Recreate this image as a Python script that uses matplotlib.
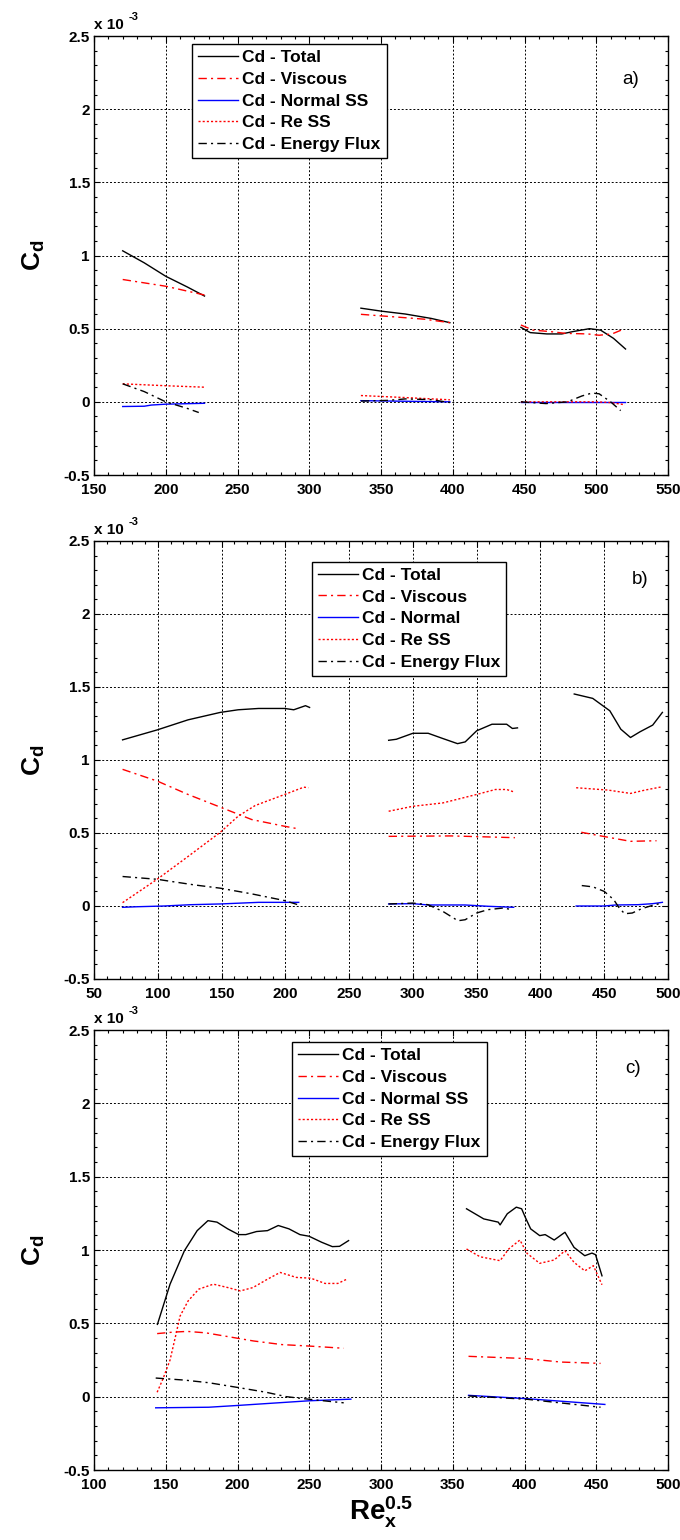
import matplotlib
matplotlib.use("Agg")
import matplotlib.pyplot as plt
from matplotlib.ticker import MultipleLocator, FormatStrFormatter
from matplotlib.transforms import offset_copy

plt.rcParams['font.family'] = ['Liberation Sans', 'DejaVu Sans']
plt.rcParams['axes.unicode_minus'] = False
plt.rcParams['mathtext.fontset'] = 'custom'
plt.rcParams['mathtext.rm'] = 'Liberation Sans'
plt.rcParams['mathtext.it'] = 'Liberation Sans:italic'
plt.rcParams['mathtext.bf'] = 'Liberation Sans:bold'

# Values in units of 1e-3 (as on the axis "x 10^-3"); each list = curve segments
series_names = ["Cd - Total", "Cd - Viscous", "Cd - Normal SS", "Cd - Re SS", "Cd - Energy Flux"]
series_names_b = ["Cd - Total", "Cd - Viscous", "Cd - Normal", "Cd - Re SS", "Cd - Energy Flux"]

# ---------------- panel a ----------------
a_total_x = [[170, 185, 200, 215, 227], [336, 350, 367, 385, 398],
             [447.5, 454, 465.6, 476, 483.7, 495.3, 503, 512, 520.4]]
a_total_y = [[1.032, 0.95, 0.858, 0.785, 0.723], [0.64, 0.62, 0.60, 0.57, 0.541],
             [0.509, 0.473, 0.464, 0.464, 0.48, 0.50, 0.49, 0.434, 0.361]]
a_visc_x = [[170, 200, 227], [336, 360, 380, 398],
            [447.5, 456, 468, 478.5, 494, 502, 511, 518.6]]
a_visc_y = [[0.836, 0.79, 0.73], [0.598, 0.58, 0.565, 0.541],
            [0.525, 0.49, 0.48, 0.468, 0.464, 0.455, 0.464, 0.495]]
a_norm_x = [[170, 185, 190, 200, 227], [336, 398], [447.5, 520]]
a_norm_y = [[-0.032, -0.03, -0.022, -0.016, -0.01], [0.008, 0.0], [0.0, 0.0]]
a_ress_x = [[170, 200, 227], [336, 365, 398], [447.5, 500, 510, 520]]
a_ress_y = [[0.123, 0.11, 0.10], [0.043, 0.03, 0.014], [0.0, 0.0, -0.005, -0.02]]
a_enfl_x = [[170, 185, 200, 215, 223], [336, 355, 367, 385, 398],
            [447.5, 465, 480, 490, 497, 502, 510, 517]]
a_enfl_y = [[0.123, 0.07, 0.0, -0.045, -0.073], [0.005, 0.01, 0.02, 0.015, -0.005],
            [0.0, -0.012, 0.0, 0.04, 0.06, 0.055, 0.0, -0.06]]

# ---------------- panel b ----------------
b_total_x = [[72.4, 99.5, 123.7, 149, 163, 179, 199.5, 206.6, 215.8, 219],
             [281, 287, 300, 312, 323.5, 335, 341, 350, 362, 373.5, 378, 382],
             [426.5, 441, 454.4, 463, 470.6, 478, 488, 495.6]]
b_total_y = [[1.138, 1.206, 1.275, 1.326, 1.344, 1.353, 1.353, 1.344, 1.372, 1.36],
             [1.135, 1.142, 1.183, 1.183, 1.147, 1.112, 1.124, 1.2, 1.245, 1.245, 1.216, 1.22],
             [1.452, 1.422, 1.337, 1.211, 1.154, 1.193, 1.239, 1.326]]
b_visc_x = [[72.4, 99.5, 123.7, 149, 173.7, 199.5, 210.5], [281, 330, 380],
            [432, 456, 470.6, 491]]
b_visc_y = [[0.936, 0.856, 0.764, 0.677, 0.592, 0.546, 0.528], [0.477, 0.48, 0.468],
            [0.505, 0.466, 0.443, 0.447]]
b_norm_x = [[72.4, 84, 105, 126, 149, 179, 210.5], [281, 300, 312, 341, 359, 379],
            [428, 450, 459, 476.5, 488, 495.6]]
b_norm_y = [[-0.009, -0.005, 0.0, 0.009, 0.014, 0.025, 0.025],
            [0.014, 0.016, 0.007, 0.007, -0.002, -0.009],
            [0.0, 0.0, 0.007, 0.009, 0.016, 0.025]]
b_ress_x = [[72.4, 99.5, 123.7, 149, 163, 176.3, 199.5, 214.5, 218],
            [281, 300, 323.5, 350, 364.7, 373.5, 379],
            [428, 453, 470.6, 482, 495.6]]
b_ress_y = [[0.023, 0.183, 0.339, 0.505, 0.615, 0.688, 0.764, 0.814, 0.81],
            [0.649, 0.683, 0.706, 0.764, 0.798, 0.798, 0.782],
            [0.81, 0.794, 0.771, 0.794, 0.817]]
b_enfl_x = [[72.4, 99.5, 113, 129, 149, 173.7, 199.5, 210.5],
            [281, 300, 311.8, 323.5, 335.3, 341, 350, 358.8, 370.6, 378],
            [432.4, 441.2, 450, 457.4, 461.8, 466, 472, 479.4, 488.2, 495.6]]
b_enfl_y = [[0.202, 0.183, 0.165, 0.144, 0.122, 0.083, 0.037, 0.007],
            [0.014, 0.02, 0.009, -0.037, -0.101, -0.094, -0.048, -0.025, -0.014, -0.025],
            [0.14, 0.131, 0.1, 0.044, -0.014, -0.053, -0.048, -0.018, 0.005, 0.021]]

# ---------------- panel c ----------------
c_total_x = [[144.2, 153, 163, 171.9, 179.4, 185.7, 193.2, 200.8, 205.8, 213.3, 220.9,
              228.4, 235.9, 243.5, 249.8, 258.6, 266.1, 271.1, 277.4],
             [359.6, 371.6, 381.7, 383, 388, 394.3, 398, 400.5, 404.3, 410.6, 414.4,
              420.7, 428.2, 434.5, 442, 447, 449.5, 454]]
c_total_y = [[0.493, 0.767, 0.995, 1.132, 1.2, 1.19, 1.144, 1.105, 1.105, 1.126, 1.132,
              1.167, 1.144, 1.105, 1.094, 1.053, 1.023, 1.025, 1.064],
             [1.281, 1.212, 1.19, 1.171, 1.247, 1.292, 1.281, 1.224, 1.144, 1.098, 1.105,
              1.068, 1.121, 1.018, 0.961, 0.979, 0.968, 0.824]]
c_visc_x = [[144, 155, 165, 178, 193, 211, 231, 250, 274], [361, 400.6, 425.3, 453]]
c_visc_y = [[0.43, 0.44, 0.445, 0.435, 0.41, 0.38, 0.355, 0.345, 0.33],
            [0.275, 0.26, 0.236, 0.227]]
c_norm_x = [[143, 180, 200, 250, 279], [361, 402, 456]]
c_norm_y = [[-0.076, -0.072, -0.06, -0.028, -0.017], [0.009, -0.014, -0.053]]
c_ress_x = [[144, 148, 153, 157, 160, 165.6, 173, 183.2, 193.2, 202, 210.8, 220.9,
             229.7, 241, 251, 261, 269.9, 276.2],
            [359.6, 369, 383, 389, 396.8, 401.8, 410.6, 420.7, 428.2, 434.5, 442, 448, 454]]
c_ress_y = [[0.03, 0.12, 0.25, 0.42, 0.55, 0.653, 0.733, 0.767, 0.744, 0.721, 0.744, 0.801,
             0.847, 0.813, 0.808, 0.772, 0.772, 0.801],
            [1.007, 0.954, 0.927, 1.007, 1.068, 0.977, 0.909, 0.932, 0.995, 0.916, 0.858,
             0.893, 0.763]]
c_enfl_x = [[143, 163, 180, 200, 220, 234, 252, 274], [361, 402, 453]]
c_enfl_y = [[0.127, 0.113, 0.095, 0.063, 0.03, 0.0, -0.02, -0.042], [0.005, -0.018, -0.072]]

# ---------------- styling ----------------
styles = [dict(color='black', linestyle='-'),
          dict(color='red', linestyle=(0, (6, 3, 1.5, 3))),
          dict(color='blue', linestyle='-'),
          dict(color='red', linestyle=(0, (1.5, 1.5))),
          dict(color='black', linestyle=(0, (6, 3, 1.5, 3)))]

fig = plt.figure(figsize=(6.8, 15.4), dpi=100)
L, W = 94 / 680, 574 / 680
axes_rects = [[L, 1 - 475 / 1540, W, 439 / 1540],
              [L, 1 - 979 / 1540, W, 438 / 1540],
              [L, 1 - 1470 / 1540, W, 440 / 1540]]

panels = [
    dict(data=[(a_total_x, a_total_y), (a_visc_x, a_visc_y), (a_norm_x, a_norm_y),
               (a_ress_x, a_ress_y), (a_enfl_x, a_enfl_y)],
         names=series_names, xlim=(150, 550), tag='a)', tagx=0.935, tagy=0.9,
         leg=(0.1707, 0.982)),
    dict(data=[(b_total_x, b_total_y), (b_visc_x, b_visc_y), (b_norm_x, b_norm_y),
               (b_ress_x, b_ress_y), (b_enfl_x, b_enfl_y)],
         names=series_names_b, xlim=(50, 500), tag='b)', tagx=0.951, tagy=0.913,
         leg=(0.379, 0.953)),
    dict(data=[(c_total_x, c_total_y), (c_visc_x, c_visc_y), (c_norm_x, c_norm_y),
               (c_ress_x, c_ress_y), (c_enfl_x, c_enfl_y)],
         names=series_names, xlim=(100, 500), tag='c)', tagx=0.94, tagy=0.913,
         leg=(0.345, 0.973)),
]

for i, (rect, p) in enumerate(zip(axes_rects, panels)):
    ax = fig.add_axes(rect)
    handles = []
    for (xs, ys), st, name in zip(p['data'], styles, p['names']):
        for k, (xx, yy) in enumerate(zip(xs, ys)):
            ln, = ax.plot(xx, yy, lw=1.0, **st)
            if k == 0:
                ln.set_label(name)
                handles.append(ln)
    ax.set_xlim(*p['xlim'])
    ax.set_ylim(-0.5, 2.5)
    ax.xaxis.set_major_locator(MultipleLocator(50))
    ax.xaxis.set_minor_locator(MultipleLocator(10))
    ax.yaxis.set_major_locator(MultipleLocator(0.5))
    ax.yaxis.set_minor_locator(MultipleLocator(0.1))
    ax.yaxis.set_major_formatter(FormatStrFormatter('%g'))
    ax.xaxis.set_major_formatter(FormatStrFormatter('%g'))
    ax.tick_params(which='both', direction='in', top=True, right=True)
    ax.tick_params(which='major', length=4, width=0.8, labelsize=11)
    ax.tick_params(axis='x', which='major', pad=6)
    ax.tick_params(axis='y', which='major', pad=3)
    ax.tick_params(which='minor', length=2.5, width=0.8)
    for lab in ax.get_xticklabels() + ax.get_yticklabels():
        lab.set_fontweight('bold')
    ax.grid(True, which='major', color='black', linestyle=(0, (2, 2)), linewidth=0.7)
    for s in ax.spines.values():
        s.set_linewidth(1.0)
    ax.set_ylabel(r'$\mathbf{C_d}$', fontsize=19, labelpad=12)
    ax.text(0.0, 1.01, 'x 10', transform=ax.transAxes, fontsize=11,
            fontweight='bold', ha='left', va='bottom')
    ax.text(0.0, 1.01, '-3', transform=offset_copy(ax.transAxes, fig=fig, x=25, y=7, units='points'),
            fontsize=8, fontweight='bold', ha='left', va='bottom')
    ax.text(p['tagx'], p['tagy'], p['tag'], transform=ax.transAxes, fontsize=13.5,
            ha='center', va='center')
    leg = ax.legend(handles=handles, loc='upper left', bbox_to_anchor=p['leg'],
                    fancybox=False, edgecolor='black', framealpha=1,
                    prop=dict(weight='bold', size=12.5), handlelength=2.3,
                    handletextpad=0.25, labelspacing=0.38, borderpad=0.35,
                    borderaxespad=0)
    leg.get_frame().set_linewidth(1.0)
    if i == 2:
        ax.set_xlabel(r'$\mathbf{Re_x^{0.5}}$', fontsize=20, labelpad=2)

fig.savefig('out.png', dpi=100)
